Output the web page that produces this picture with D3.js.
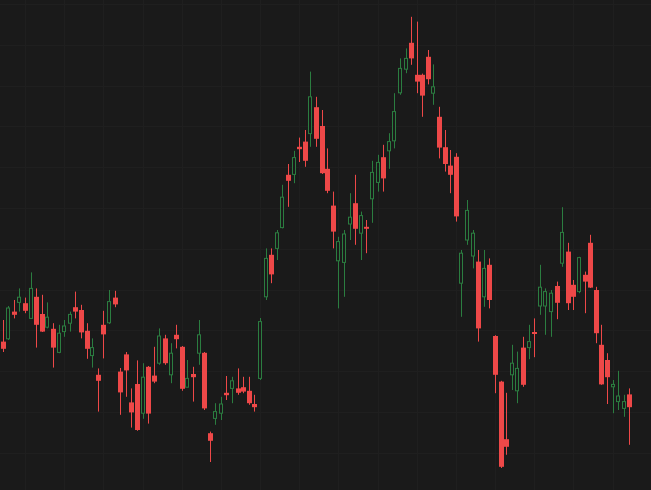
<!DOCTYPE html>
<html>
<head>
<meta charset="utf-8">
<script src="https://cdn.jsdelivr.net/npm/d3@7"></script>
<style>
  html, body { margin: 0; padding: 0; background: #1a1a1a; }
  svg { display: block; }
</style>
</head>
<body>
<svg id="chart" width="651" height="490"></svg>
<script>
const opens  = [134.6,135.3,142.1,144.4,144.2,140.4,145.8,141.5,138.2,137.8,131.9,137.1,139.2,143.2,142.5,137.3,131.1,126.3,138.8,139.3,145.6,127.1,131.4,119.4,124.0,116.7,128.3,126.1,129.2,135.4,126.3,136.3,133.3,123.2,126.5,131.7,131.8,111.7,115.4,116.7,121.8,122.9,122.9,123.2,122.3,119.0,125.4,145.8,156.3,157.9,163.1,176.3,176.4,183.3,184.6,186.6,193.2,188.5,177.8,168.6,154.8,154.4,164.0,169.2,161.7,163.3,170.3,174.4,180.7,182.3,184.8,196.8,202.7,209.3,201.3,201.3,205.8,196.7,190.8,183.2,178.6,180.8,149.2,160.0,156.0,154.6,145.8,153.8,136.0,124.6,110.2,126.3,122.3,133.1,133.1,137.0,143.5,143.5,142.1,148.5,154.2,157.1,148.8,147.1,151.3,159.3,147.5,133.8,130.0,123.3,119.6,117.9,121.4];
const highs  = [140.0,143.5,145.0,147.9,145.6,151.9,147.9,146.3,144.4,139.2,138.8,140.0,142.1,147.1,143.8,139.2,135.4,127.9,142.3,147.5,147.3,128.0,132.0,122.9,129.9,129.2,128.5,133.3,137.9,136.3,134.2,138.8,133.5,130.0,128.3,140.0,132.0,112.1,119.2,120.8,126.0,125.8,127.9,125.8,125.8,121.3,140.5,157.9,157.9,162.5,173.8,179.0,182.3,185.6,187.5,202.1,195.8,192.5,182.9,172.1,160.8,162.5,171.7,176.3,167.1,165.0,179.8,181.3,183.8,186.7,196.7,205.4,207.9,215.8,214.6,201.6,207.5,203.9,193.3,187.5,182.5,181.7,157.5,170.0,162.5,157.5,157.5,155.4,136.2,124.8,121.8,133.8,132.1,135.8,138.8,140.4,153.8,147.9,147.5,149.6,168.2,159.3,150.0,155.8,152.1,161.3,148.3,138.8,131.7,125.0,127.3,121.3,122.9];
const lows   = [132.0,135.0,140.4,142.1,141.7,140.4,133.1,137.0,137.9,128.1,131.7,135.8,137.1,140.4,135.4,130.3,128.1,117.1,130.4,139.0,143.2,116.3,120.8,113.1,112.3,115.3,114.1,124.2,128.8,128.8,124.2,132.9,122.3,123.2,119.6,128.8,117.5,104.5,113.8,115.0,120.0,119.2,121.3,121.7,118.8,117.1,125.0,145.0,149.2,155.0,162.9,168.3,174.2,179.5,178.3,183.3,183.3,176.5,171.7,157.9,142.9,145.8,160.0,158.8,155.0,156.7,164.3,172.1,172.1,177.8,182.9,196.3,201.7,203.8,196.7,190.8,198.9,193.8,180.4,177.1,171.7,164.6,140.8,158.8,152.9,134.6,143.3,142.9,121.7,103.0,106.3,122.5,119.2,123.3,130.2,130.7,141.3,136.3,135.8,140.2,153.3,142.5,142.5,146.7,141.7,148.0,134.2,123.8,119.0,116.7,117.5,115.8,108.8];
const closes = [132.8,143.0,141.3,145.7,142.3,147.9,138.8,137.1,140.7,133.1,136.7,138.5,141.4,142.1,136.9,132.8,133.1,124.8,136.4,144.6,143.9,121.9,127.4,116.9,112.5,125.7,116.6,124.6,136.0,129.2,131.7,135.2,122.8,125.4,125.7,136.3,117.9,109.8,117.1,119.0,121.2,124.8,121.8,122.1,119.2,118.2,139.6,155.4,151.4,161.8,170.7,174.8,180.6,182.7,179.8,195.8,185.3,176.7,172.3,162.1,159.6,161.5,165.7,162.8,166.1,162.8,176.9,179.4,175.4,184.6,192.1,202.9,205.4,205.4,199.6,196.1,200.2,198.3,183.1,179.0,176.3,165.9,156.7,167.4,161.7,137.9,152.9,145.0,126.3,103.3,108.3,129.2,127.9,123.8,134.6,136.5,148.2,147.1,146.7,144.3,161.9,144.2,145.8,155.6,149.6,148.1,136.7,123.9,125.7,123.9,121.0,119.6,118.2];
const bars = d3.range(opens.length);
const gridEvery = 7;
const gridPrices = d3.range(0, 12).map(k => 219 - 10.2 * k);

const W = 651, H = 490;
const svg = d3.select("#chart");
const x = d3.scaleLinear().domain([0, bars.length - 1]).range([2.7, 629.3]);
const y = d3.scaleLinear().domain([100, 220]).range([480, 0]);

const UP = "#2b7d40", DOWN = "#ee4848", BG = "#1a1a1a";

svg.append("rect").attr("width", W).attr("height", H).attr("fill", BG);

const grid = svg.append("g").attr("stroke", "#1f1f1f").attr("stroke-width", 1);
grid.selectAll("line.h").data(gridPrices).join("line").attr("class", "h")
  .attr("x1", 0).attr("x2", W)
  .attr("y1", d => Math.round(y(d)) + 0.5).attr("y2", d => Math.round(y(d)) + 0.5);
grid.selectAll("line.v").data(bars.filter(i => (i - 46) % gridEvery === 0)).join("line").attr("class", "v")
  .attr("y1", 0).attr("y2", H)
  .attr("x1", d => Math.round(x(d)) + 0.5).attr("x2", d => Math.round(x(d)) + 0.5);

const bw = 4;
const g = svg.append("g");
const c = g.selectAll("g.c").data(bars).join("g").attr("class", "c");
c.append("line")
  .attr("x1", i => Math.round(x(i)) + 0.5).attr("x2", i => Math.round(x(i)) + 0.5)
  .attr("y1", i => y(highs[i])).attr("y2", i => y(lows[i]))
  .attr("stroke", i => closes[i] >= opens[i] ? UP : DOWN).attr("stroke-width", 1);
c.append("rect")
  .attr("x", i => Math.round(x(i)) - bw / 2 + (closes[i] >= opens[i] ? 0.5 : 0))
  .attr("width", i => closes[i] >= opens[i] ? bw - 1 : bw + 1)
  .attr("y", i => y(Math.max(opens[i], closes[i])))
  .attr("height", i => Math.max(1.5, Math.abs(y(opens[i]) - y(closes[i]))))
  .attr("fill", i => closes[i] >= opens[i] ? BG : DOWN)
  .attr("stroke", i => closes[i] >= opens[i] ? UP : "none")
  .attr("stroke-width", 1);
</script>
</body>
</html>
